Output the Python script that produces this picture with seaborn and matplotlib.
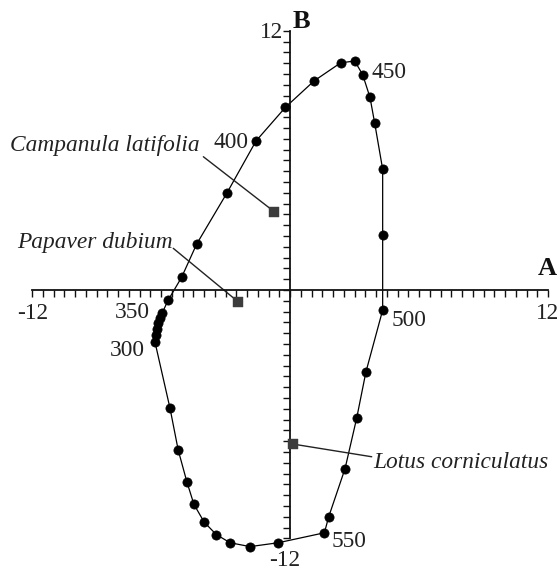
import numpy as np
import pandas as pd
import matplotlib
matplotlib.use("Agg")
import matplotlib.pyplot as plt
import seaborn as sns

# Spectral locus: wavelength (nm) and colour-space coordinates A, B
wavelength = [300, 310, 320, 330, 340, 350, 360, 370, 380, 390, 400, 410, 420,
              430, 440, 450, 460, 470, 480, 490, 500, 510, 520, 530, 540, 550,
              560, 570, 580, 590, 600, 610, 620, 630, 640]
locus_a = [-6.28, -6.23, -6.19, -6.12, -6.05, -5.94, -5.66, -5.04, -4.34, -2.94,
           -1.58, -0.21, 1.12, 2.36, 3.01, 3.38, 3.72, 3.94, 4.31, 4.31,
           4.31, 3.53, 3.10, 2.56, 1.80, 1.60, -0.54, -1.86, -2.79, -3.43,
           -3.99, -4.47, -4.80, -5.20, -5.58]
locus_b = [-2.41, -2.08, -1.81, -1.53, -1.30, -1.05, -0.46, 0.59, 2.13, 4.48,
           6.90, 8.46, 9.68, 10.52, 10.60, 9.97, 8.92, 7.72, 5.59, 2.53,
           -0.93, -3.80, -5.94, -8.27, -10.50, -11.24, -11.70, -11.88, -11.70, -11.32,
           -10.75, -9.92, -8.87, -7.41, -5.48]

# Flower colours
species = ["Campanula latifolia", "Papaver dubium", "Lotus corniculatus"]
species_a = [-0.74, -2.42, 0.12]
species_b = [3.63, -0.54, -7.13]

# Wavelengths that carry a label
labelled_nm = [300, 350, 400, 450, 500, 550]

sns.set_theme(style="white")
plt.rcParams["font.family"] = ["Liberation Serif", "DejaVu Serif"]

FS = 16.8
TXT = "#222222"

locus = pd.DataFrame({"nm": wavelength, "A": locus_a, "B": locus_b})
closed = pd.concat([locus, locus.iloc[[0]]], ignore_index=True)
flowers = pd.DataFrame({"species": species, "A": species_a, "B": species_b})

fig = plt.figure(figsize=(5.6, 5.69), dpi=100)
ax = fig.add_axes([0, 0, 1, 1])
ax.set_xlim(-290 / 21.5, 270 / 21.5)
ax.set_ylim((290 - 569) / 21.6, 290 / 21.6)

# Axes crossing at the origin
for side in ("top", "right"):
    ax.spines[side].set_visible(False)
ax.spines["left"].set_position(("data", 0))
ax.spines["bottom"].set_position(("data", 0))
ax.spines["bottom"].set_bounds(-12, 12)
ax.spines["left"].set_bounds(-11.5, 12)
for side in ("left", "bottom"):
    ax.spines[side].set_linewidth(1.3)
    ax.spines[side].set_color("#111111")
ax.set_xticks(np.arange(-12, 12.01, 0.5))
ax.set_yticks(np.arange(-11.5, 12.01, 0.5))
ax.set_xticklabels([])
ax.set_yticklabels([])
ax.tick_params(axis="both", direction="out", length=5, width=1.0,
               color="#111111", bottom=True, left=True)

# Locus line and points
sns.lineplot(data=closed, x="A", y="B", sort=False, estimator=None,
             color="black", linewidth=0.9, ax=ax, zorder=2)
sns.scatterplot(data=locus, x="A", y="B", color="black", s=44,
                edgecolor="black", linewidth=0.5, ax=ax, zorder=3)

# Flower points with leader lines
sns.scatterplot(data=flowers, x="A", y="B", marker="s", color="#3c3c3c",
                s=48, edgecolor="#3c3c3c", linewidth=0.3, ax=ax, zorder=4)
ax.set_xlabel("")
ax.set_ylabel("")

leader_end = {"Campanula latifolia": (-4.03, 6.17),
              "Papaver dubium": (-5.43, 1.93),
              "Lotus corniculatus": (3.80, -7.72)}
text_pos = {"Campanula latifolia": (-4.19, 6.67, "right"),
            "Papaver dubium": (-5.44, 2.19, "right"),
            "Lotus corniculatus": (3.86, -8.0, "left")}
for name, a, b in zip(species, species_a, species_b):
    ex, ey = leader_end[name]
    ax.plot([a, ex], [b, ey], color=TXT, linewidth=1.0, zorder=2)
    tx, ty, ha = text_pos[name]
    ax.text(tx, ty, name, ha=ha, va="center", fontsize=FS, style="italic",
            color=TXT)

# Wavelength labels
nm_pos = {300: (-6.74, -2.78, "right"), 350: (-6.51, -1.03, "right"),
          400: (-1.95, 6.85, "right"), 450: (3.81, 10.09, "left"),
          500: (4.74, -1.39, "left"), 550: (1.95, -11.65, "left")}
for nm in labelled_nm:
    x, y, ha = nm_pos[nm]
    ax.text(x, y, str(nm), ha=ha, va="center", fontsize=FS, color=TXT)

# Axis end values and names
ax.text(-11.95, -1.08, "-12", ha="center", va="center", fontsize=FS, color=TXT)
ax.text(12.50, -1.07, "12", ha="right", va="center", fontsize=FS, color=TXT)
ax.text(-0.30, 11.94, "12", ha="right", va="center", fontsize=FS, color=TXT)
ax.text(-0.23, -12.5, "-12", ha="center", va="center", fontsize=FS, color=TXT)
ax.text(0.12, 12.45, "B", ha="left", va="center", fontsize=19, fontweight="bold",
        color="#111111")
ax.text(11.95, 0.98, "A", ha="center", va="center", fontsize=19, fontweight="bold",
        color="#111111")

fig.savefig("out.png", dpi=100)
